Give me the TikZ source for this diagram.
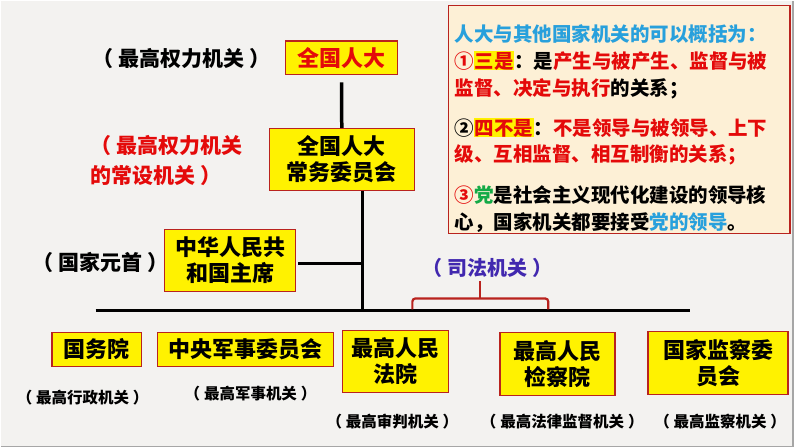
\documentclass[tikz,border=0pt]{standalone}
\usepackage{fontspec}
\setmainfont{Noto Sans CJK SC}
\definecolor{papel}{RGB}{243,242,240}
\definecolor{borde}{RGB}{185,35,30}
\definecolor{rojo}{RGB}{228,10,10}
\definecolor{azulclaro}{RGB}{40,160,220}
\definecolor{morado}{RGB}{65,40,175}
\definecolor{crema}{RGB}{253,240,214}
\definecolor{verde}{RGB}{20,170,70}
\tikzset{
  organo/.style={draw=borde, line width=1.6pt, fill=yellow, align=center, inner sep=0pt,
    font=\bfseries\fontsize{22}{26}\selectfont},
  nota/.style={font=\bfseries\fontsize{21}{30}\selectfont, align=left},
  notapeq/.style={font=\bfseries\fontsize{15.5}{18}\selectfont},
  linea/.style={line width=3.5pt}
}
\newcommand{\resalto}[1]{\smash{\setlength{\fboxsep}{0.5pt}\colorbox{yellow}{#1}}}
\newcommand{\paren}[1]{（\kern0.25em#1\kern0.25em）}
\begin{document}
\begin{tikzpicture}[x=1pt,y=-1pt]
        % Fondo
        \fill[papel] (0,0) rectangle (794,447);
        \draw[gray!70, line width=1.5pt] (793,0) -- (793,446) -- (0,446);

        % Organos del Estado
        \node[organo, minimum width=112pt, minimum height=34pt, text=rojo] (npc) at (341,57) {全国人大};
        \node[organo, minimum width=145pt, minimum height=62pt] (npcsc) at (341.5,159) {全国人大\\常务委员会};
        \node[organo, minimum width=131pt, minimum height=62pt] (pres) at (229.5,260) {中华人民共\\和国主席};
        \node[organo, minimum width=90pt, minimum height=34pt] (gwy) at (96,349) {国务院};
        \node[organo, minimum width=176pt, minimum height=34pt] (jwh) at (245,349) {中央军事委员会};
        \node[organo, minimum width=106pt, minimum height=62pt] (fy) at (395,361) {最高人民\\法院};
        \node[organo, minimum width=115pt, minimum height=63pt] (jcy) at (557.5,363.5) {最高人民\\检察院};
        \node[organo, minimum width=140pt, minimum height=63pt] (jwy) at (718,362.5) {国家监察委\\员会};

        % Notas
        \node[nota] (npcnota) at (181,58) {\paren{最高权力机关}};
        \node[nota, text=rojo, anchor=west] (npcscnota) at (86,160) {（\kern0.25em最高权力机关\\的常设机关\kern0.25em）};
        \node[nota] (presnota) at (100,262) {\paren{国家元首}};
        \node[nota, text=morado, font=\bfseries\fontsize{20}{24}\selectfont] (jud) at (487,267) {\paren{司法机关}};
        \node[notapeq] (gwynota) at (82,397) {\paren{最高行政机关}};
        \node[notapeq] (jwhnota) at (250,393) {\paren{最高军事机关}};
        \node[notapeq] (fynota) at (392,421) {\paren{最高审判机关}};
        \node[notapeq] (jcynota) at (562,421) {\paren{最高法律监督机关}};
        \node[notapeq] (jwynota) at (720,421) {\paren{最高监察机关}};

        % Lineas
        \coordinate (nudo) at (362,310);
        \coordinate (busizq) at (95,310);
        \coordinate (busder) at (690,310);
        \draw[linea, shorten <=7pt] (npc) -- (npcsc);
        \draw[linea] (npcsc.south -| nudo) -- (nudo);
        \draw[linea] ([shift={(2pt,-3pt)}]pres.east) coordinate (pe) -- (pe -| nudo);
        \draw[linea] (busizq) -- (busder);

        % Llave del poder judicial
        \coordinate (llave) at (480,298);
        \draw[borde, line width=2.2pt, rounded corners=3pt] (412,309) -- (412,298) -- (548,298) -- (548,309);
        \draw[borde, line width=2.2pt] (llave) -- (llave |- jud.south);

        % Cuadro de resumen
        \node[draw=borde, line width=1.5pt, fill=crema, minimum width=342pt, minimum height=228pt, inner sep=0pt] (cuadro) at (619,119) {};
        \node[anchor=north west, inner sep=0pt, align=left, font=\bfseries\fontsize{19.5}{27}\selectfont] (resumen) at ([shift={(7pt,-19pt)}]cuadro.north west) {%
          {\color{azulclaro}人大与其他国家机关的可以概括为：}\\
          {\color{rojo}①\resalto{三是}}：是{\color{rojo}产生与被产生、监督与被}\\
          {\color{rojo}监督、决定与执行}的关系；\\[13pt]
          ②\resalto{\color{rojo}四不是}：{\color{rojo}不是领导与被领导、上下}\\
          {\color{rojo}级、互相监督、相互制衡的关系；}\\[14pt]
          {\color{rojo}③}{\color{verde}党}是社会主义现代化建设的领导核\\
          心，国家机关都要接受{\color{azulclaro}党的领导}。};
    \end{tikzpicture}
\end{document}
